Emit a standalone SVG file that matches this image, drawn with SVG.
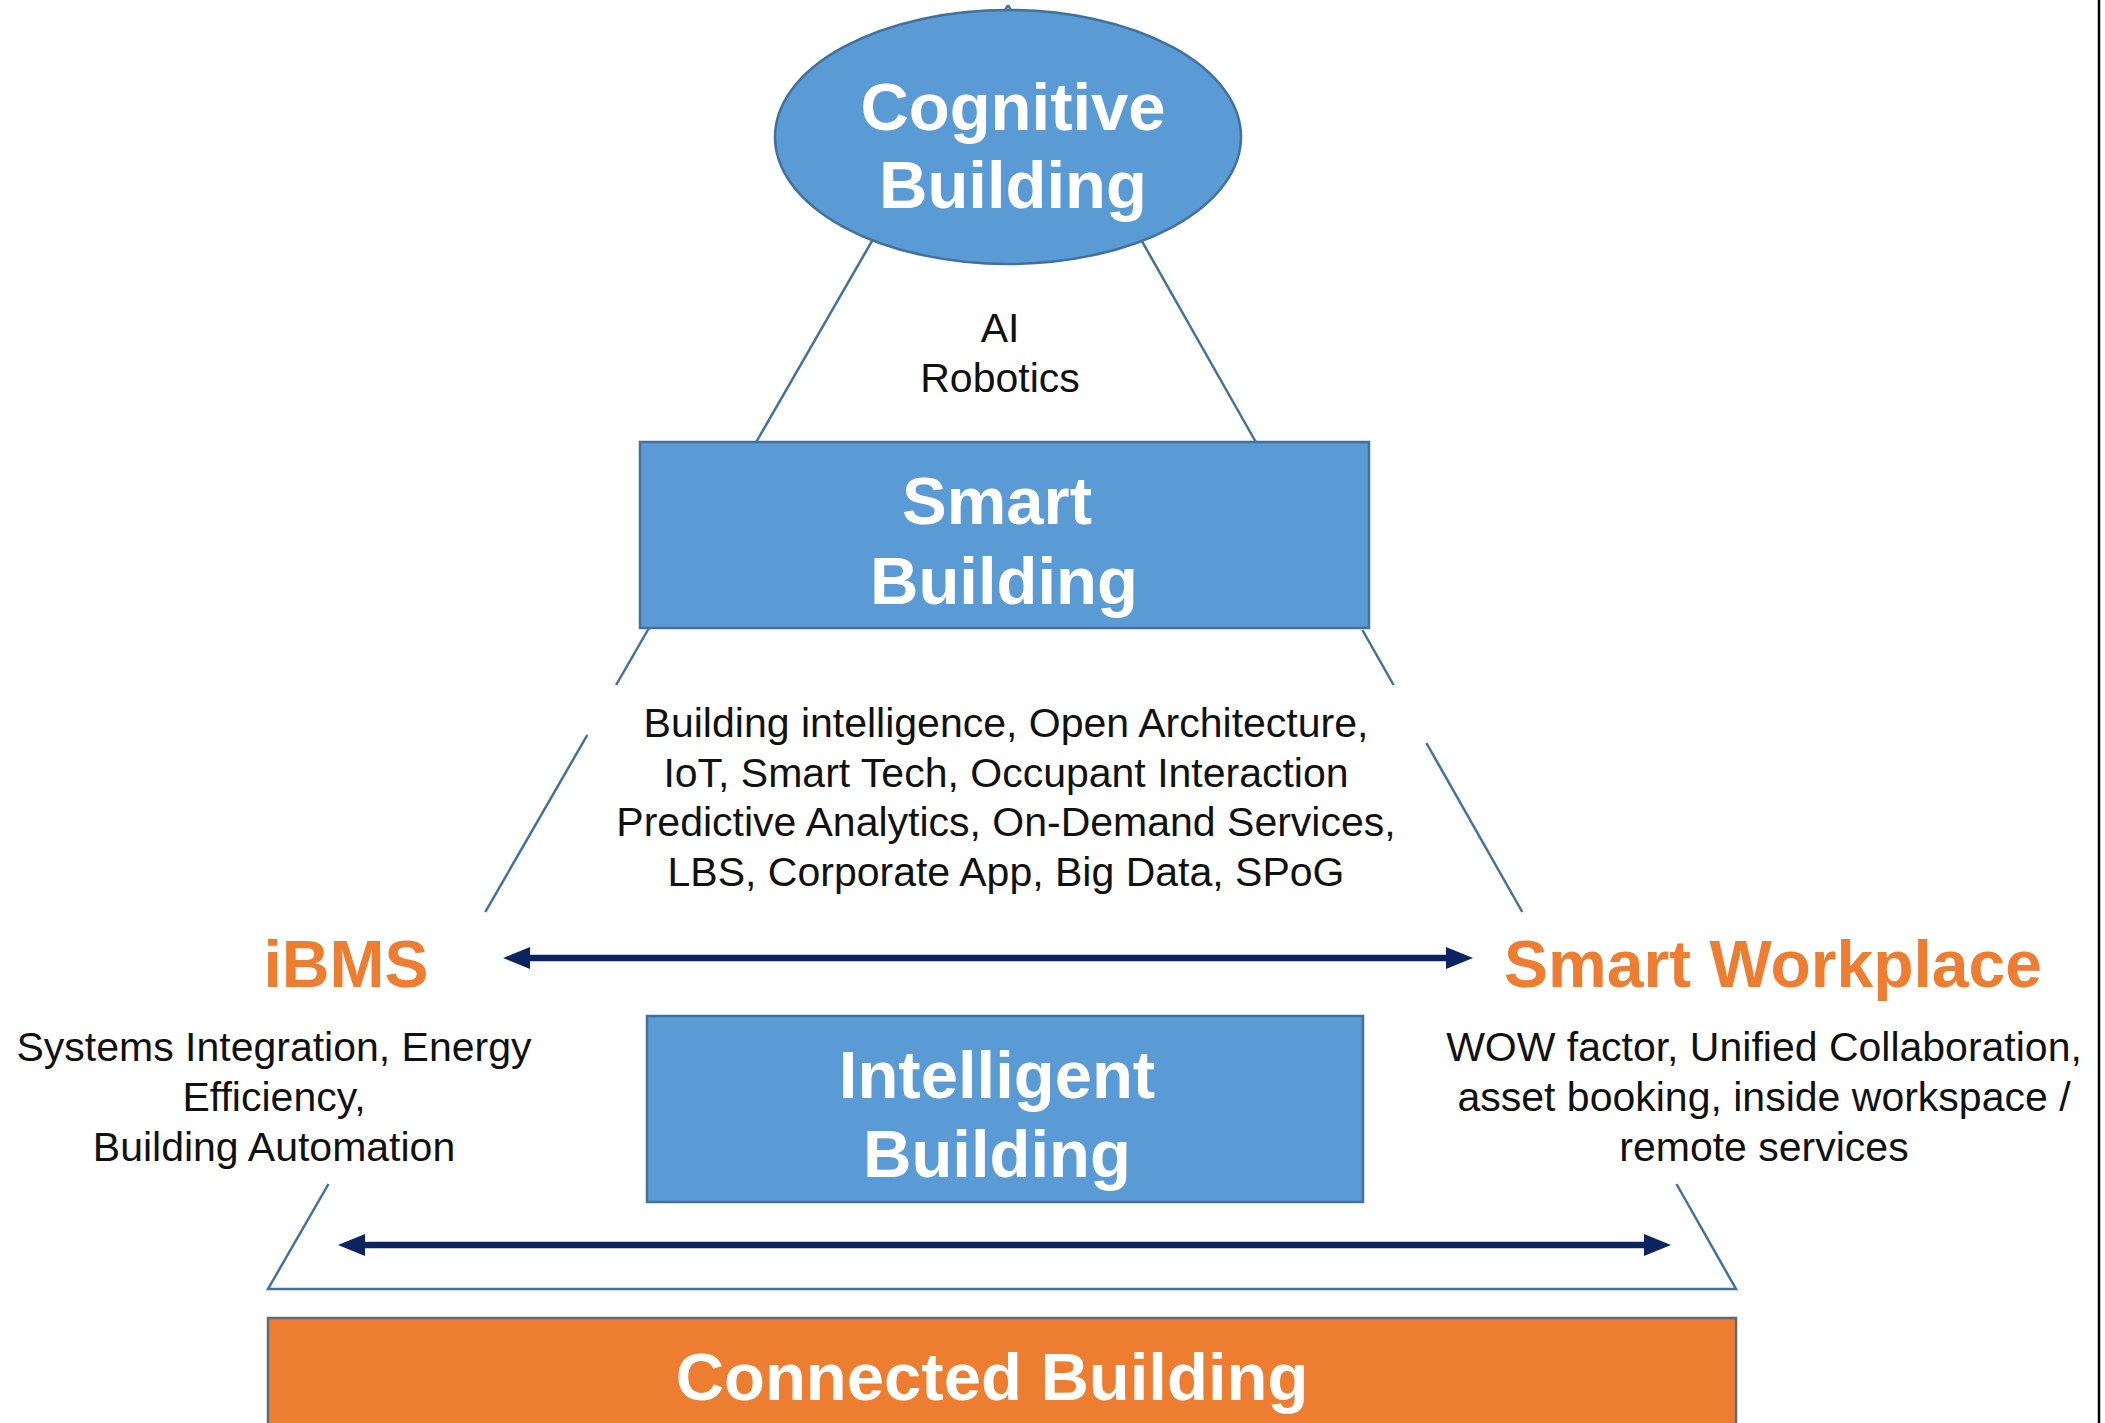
<svg xmlns="http://www.w3.org/2000/svg" width="2105" height="1423" viewBox="0 0 2105 1423">
<style>
.leg{stroke:#41719C;stroke-width:2.5;fill:none}
.shape{fill:#5B9BD5;stroke:#41719C;stroke-width:2.5}
.title{font-family:"Liberation Sans",Arial,sans-serif;font-weight:bold;font-size:67px;fill:#FFFFFF;text-anchor:middle}
.orange{font-family:"Liberation Sans",Arial,sans-serif;font-weight:bold;font-size:66px;fill:#ED7D31;text-anchor:middle}
.desc{font-family:"Liberation Sans",Arial,sans-serif;font-size:41px;fill:#111111;text-anchor:middle}
.arrow{stroke:#0C2461;stroke-width:6.5;fill:none}
</style>
<defs>
<marker id="head" markerUnits="userSpaceOnUse" markerWidth="28" markerHeight="24" viewBox="0 0 28 24" refX="4" refY="12" orient="auto-start-reverse">
<path d="M0,1 L27,12 L0,23 z" fill="#0C2461"/>
</marker>
</defs>
<rect x="0" y="0" width="2105" height="1423" fill="#FFFFFF"/>
<g id="connectors">
<path class="leg" d="M1008,5 L756.2,442 M649,628 L616.1,685 M587.3,735 L485.3,912 M328.5,1184 L268,1289 L1736,1289 L1676.5,1184 M1522.3,912 L1426.4,743 M1393.6,685 L1362.4,630 M1255.8,442 L1008,5"/>
<line class="arrow" x1="526" y1="958" x2="1450" y2="958" marker-start="url(#head)" marker-end="url(#head)"/>
<line class="arrow" x1="361" y1="1245" x2="1648" y2="1245" marker-start="url(#head)" marker-end="url(#head)"/>
</g>
<g id="cognitive">
<ellipse class="shape" cx="1008" cy="137" rx="233" ry="127"/>
<text class="title" x="1013" y="130">Cognitive</text>
<text class="title" x="1013" y="208">Building</text>
</g>
<g id="ai-robotics">
<text class="desc" x="1000" y="342">AI</text>
<text class="desc" x="1000" y="392">Robotics</text>
</g>
<g id="smart-building">
<rect class="shape" x="640" y="442" width="729" height="186"/>
<text class="title" x="997" y="524">Smart</text>
<text class="title" x="1004" y="604">Building</text>
</g>
<g id="smart-features">
<text class="desc" x="1006" y="737">Building intelligence, Open Architecture,</text>
<text class="desc" x="1006" y="787">IoT, Smart Tech, Occupant Interaction</text>
<text class="desc" x="1006" y="836">Predictive Analytics, On-Demand Services,</text>
<text class="desc" x="1006" y="886">LBS, Corporate App, Big Data, SPoG</text>
</g>
<g id="ibms">
<text class="orange" x="346" y="987">iBMS</text>
<text class="desc" x="274" y="1061">Systems Integration, Energy</text>
<text class="desc" x="274" y="1111">Efficiency,</text>
<text class="desc" x="274" y="1161">Building Automation</text>
</g>
<g id="smart-workplace">
<text class="orange" x="1773" y="987">Smart Workplace</text>
<text class="desc" x="1764" y="1061">WOW factor, Unified Collaboration,</text>
<text class="desc" x="1764" y="1111">asset booking, inside workspace /</text>
<text class="desc" x="1764" y="1161">remote services</text>
</g>
<g id="intelligent-building">
<rect class="shape" x="647" y="1016" width="716" height="186"/>
<text class="title" x="997" y="1098">Intelligent</text>
<text class="title" x="997" y="1177">Building</text>
</g>
<g id="connected-building">
<rect x="268" y="1318" width="1468" height="110" fill="#ED7D31" stroke="#5F6B78" stroke-width="2.5"/>
<text class="title" x="992" y="1400">Connected Building</text>
</g>
<line x1="2099" y1="0" x2="2099" y2="1423" stroke="#000000" stroke-width="2.5"/>
</svg>
